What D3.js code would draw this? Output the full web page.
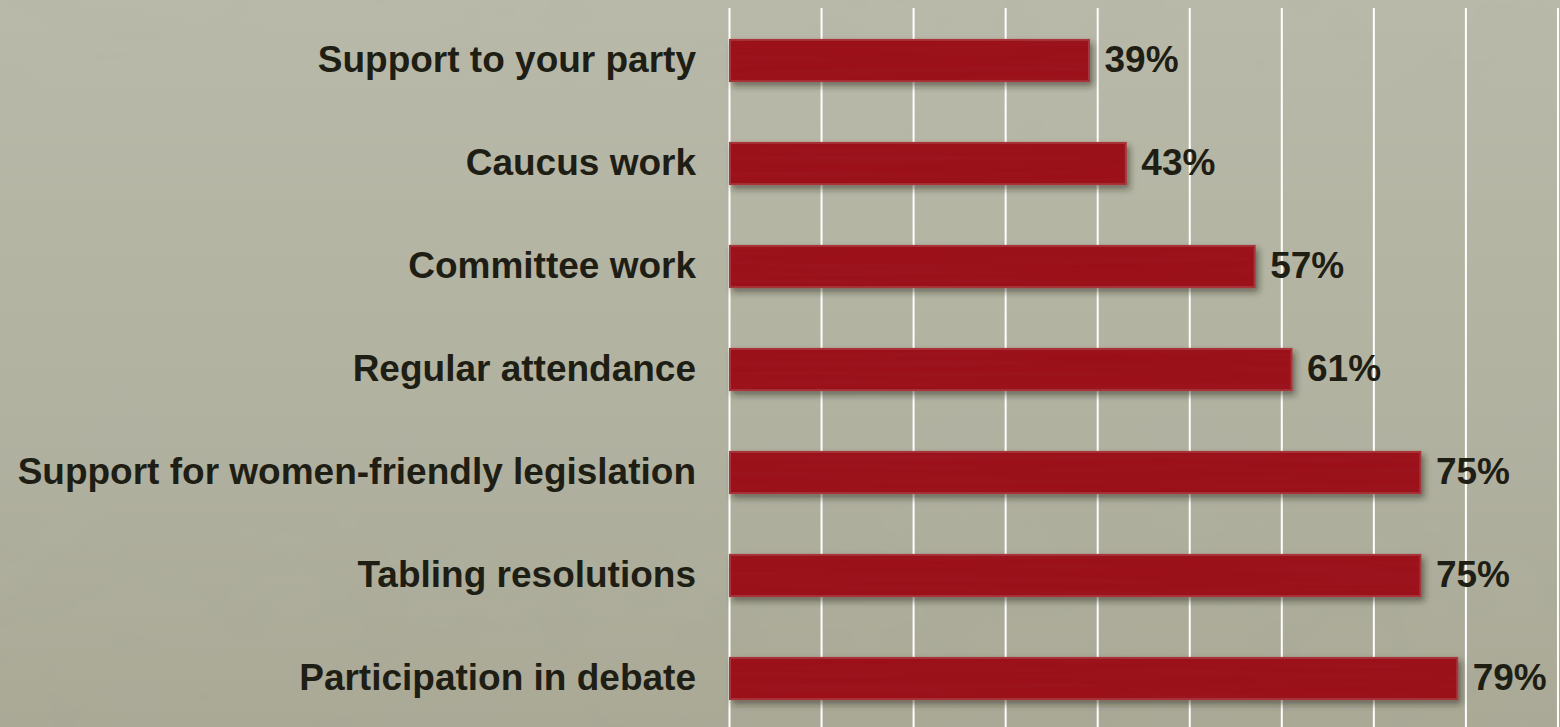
<!DOCTYPE html>
<html>
<head>
<meta charset="utf-8">
<script src="https://cdn.jsdelivr.net/npm/d3@7"></script>
<style>
  html, body { margin: 0; padding: 0; overflow: hidden; background: #b2b2a1; }
  svg { display: block; }
</style>
</head>
<body>
<svg id="chart" width="1560" height="727"></svg>
<script>
// Share of respondents rating each activity as important
const categories = [
  "Support to your party",
  "Caucus work",
  "Committee work",
  "Regular attendance",
  "Support for women-friendly legislation",
  "Tabling resolutions",
  "Participation in debate"
];
const values = [0.39, 0.43, 0.57, 0.61, 0.75, 0.75, 0.79];
const gridTicks = [0, 0.1, 0.2, 0.3, 0.4, 0.5, 0.6, 0.7, 0.8, 0.9];

const W = 1560, H = 727;
const svg = d3.select("#chart");
const defs = svg.append("defs");

// Background: soft parchment gradient with faint mottling
const bg = defs.append("linearGradient").attr("id", "bgGrad")
  .attr("x1", 0).attr("y1", 0).attr("x2", 0).attr("y2", 1);
bg.append("stop").attr("offset", "0%").attr("stop-color", "#b9b9a9");
bg.append("stop").attr("offset", "55%").attr("stop-color", "#b2b2a1");
bg.append("stop").attr("offset", "100%").attr("stop-color", "#a9a895");

const mottle = defs.append("filter").attr("id", "mottle")
  .attr("x", 0).attr("y", 0).attr("width", 1).attr("height", 1);
mottle.append("feTurbulence").attr("type", "fractalNoise")
  .attr("baseFrequency", "0.012 0.02").attr("numOctaves", 3).attr("seed", 7).attr("result", "n");
mottle.append("feColorMatrix").attr("in", "n").attr("type", "matrix")
  .attr("values", "0 0 0 0 0.45  0 0 0 0 0.45  0 0 0 0 0.38  0 0 0 0.15 0");

// Bar shadow
const shadow = defs.append("filter").attr("id", "barShadow")
  .attr("x", "-5%").attr("y", "-30%").attr("width", "115%").attr("height", "180%");
shadow.append("feDropShadow").attr("dx", 3).attr("dy", 4).attr("stdDeviation", 3)
  .attr("flood-color", "#23200f").attr("flood-opacity", 0.5);

// Grain for the bar faces
const grain = defs.append("filter").attr("id", "grain")
  .attr("x", 0).attr("y", 0).attr("width", 1).attr("height", 1);
grain.append("feTurbulence").attr("type", "fractalNoise")
  .attr("baseFrequency", "0.004 0.18").attr("numOctaves", 2).attr("seed", 3).attr("result", "g");
grain.append("feColorMatrix").attr("in", "g").attr("type", "matrix")
  .attr("values", "0 0 0 0 0.35  0 0 0 0 0.02  0 0 0 0 0.03  0 0 0 0.35 0");

svg.append("rect").attr("width", W).attr("height", H).attr("fill", "url(#bgGrad)");
svg.append("rect").attr("width", W).attr("height", H).attr("filter", "url(#mottle)");

// Scales
const x = d3.scaleLinear().domain([0, 1]).range([729.5, 1650]);
const y = d3.scaleBand().domain(categories).range([9, 730]).paddingInner(0.6).paddingOuter(0.3);

// Vertical gridlines
svg.append("g").selectAll("line").data(gridTicks).join("line")
  .attr("x1", d => x(d)).attr("x2", d => x(d))
  .attr("y1", 8).attr("y2", H)
  .attr("stroke", "#ffffff").attr("stroke-width", 2);

// Bars
const bars = svg.append("g");
bars.selectAll("rect.bar").data(values).join("rect")
  .attr("class", "bar")
  .attr("x", x(0) + 0.5)
  .attr("y", (d, i) => y(categories[i]))
  .attr("width", d => x(d) - x(0))
  .attr("height", y.bandwidth())
  .attr("fill", "#9a1116")
  .attr("stroke", "#a8353a")
  .attr("stroke-width", 2)
  .attr("filter", "url(#barShadow)");
bars.selectAll("rect.grain").data(values).join("rect")
  .attr("class", "grain")
  .attr("x", x(0) + 1.5)
  .attr("y", (d, i) => y(categories[i]) + 1)
  .attr("width", d => x(d) - x(0) - 2)
  .attr("height", y.bandwidth() - 2)
  .attr("filter", "url(#grain)");

// Category labels
svg.append("g").selectAll("text").data(categories).join("text")
  .attr("x", 696)
  .attr("y", d => y(d) + y.bandwidth() / 2)
  .attr("dy", "0.3em")
  .attr("text-anchor", "end")
  .attr("font-family", "Liberation Sans, Arial, sans-serif")
  .attr("font-weight", "bold")
  .attr("font-size", 37)
  .attr("fill", "#1e1e14")
  .text(d => d);

// Value labels
svg.append("g").selectAll("text").data(values).join("text")
  .attr("x", d => x(d) + 16)
  .attr("y", (d, i) => y(categories[i]) + y.bandwidth() / 2)
  .attr("dy", "0.3em")
  .attr("font-family", "Liberation Sans, Arial, sans-serif")
  .attr("font-weight", "bold")
  .attr("font-size", 37)
  .attr("fill", "#1e1e14")
  .text(d => Math.round(d * 100) + "%");
</script>
</body>
</html>
